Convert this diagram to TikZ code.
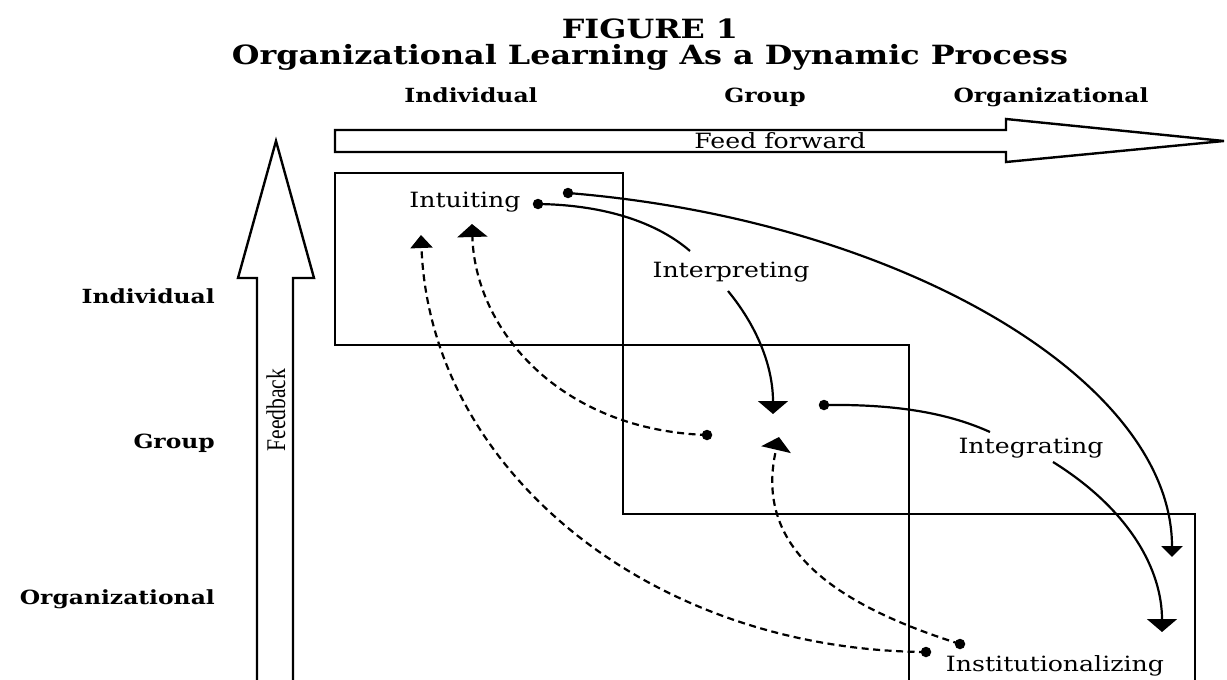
\documentclass[tikz,border=0pt]{standalone}
\usepackage{fontspec}
\usetikzlibrary{arrows.meta}
\newfontfamily\labfont[FakeStretch=1.2]{DejaVu Serif}
\newfontfamily\fbfont[FakeStretch=0.8]{Liberation Serif}
\tikzset{
  boxline/.style={line width=2pt},
  bigarrow/.style={line width=2.4pt, line join=miter, fill=white},
  flow/.style={line width=2.2pt},
  fbflow/.style={line width=2.2pt, dash pattern=on 7pt off 4.5pt},
  dotn/.style={circle, fill=black, inner sep=0pt, minimum size=10.5pt},
  lab/.style={inner sep=0pt, anchor=base, font=\labfont\fontsize{21}{24}\selectfont},
  hdr/.style={inner sep=0pt, anchor=base, font=\labfont\bfseries\fontsize{19.5}{22}\selectfont},
  rowhdr/.style={hdr, anchor=base east},
  ttl/.style={inner sep=0pt, anchor=base, font=\labfont\bfseries\fontsize{26.5}{30}\selectfont},
  tipbig/.style={-{Triangle[width=30pt,length=13pt]}},
  tipmid/.style={-{Triangle[width=22pt,length=13pt]}},
  tipsmall/.style={-{Triangle[width=21pt,length=11pt]}},
}
\begin{document}
\begin{tikzpicture}[x=1pt,y=-1pt]
\useasboundingbox[fill=white] (0,0) rectangle (1227,680);

% titles
\node[ttl] (fig) at (650,38) {FIGURE 1};
\node[ttl] (title) at (650,64) {Organizational Learning As a Dynamic Process};

% column headers
\node[hdr] (cInd) at (471,102) {Individual};
\node[hdr] (cGrp) at (765,102) {Group};
\node[hdr] (cOrg) at (1051,102) {Organizational};

% row headers
\node[rowhdr] (rInd) at (215,303) {Individual};
\node[rowhdr] (rGrp) at (215,448) {Group};
\node[rowhdr] (rOrg) at (215,604) {Organizational};

% feed forward arrow
\draw[bigarrow] (335,130) -- (1006,130) -- (1006,119) -- (1224,141) -- (1006,162) -- (1006,152) -- (335,152) -- cycle;
\node[lab] (ff) at (780,148) {Feed forward};

% feedback arrow
\draw[bigarrow] (257,684) -- (257,278) -- (238,278) -- (276,141) -- (314,278) -- (293,278) -- (293,684);
\node[inner sep=0pt, rotate=90, font=\fbfont\fontsize{27}{30}\selectfont] (fb) at (276,410) {Feedback};

% level boxes
\draw[boxline] (335,173) rectangle (623,345);
\draw[boxline] (623,345) rectangle (909,514);
\draw[boxline] (909,514) -- (1195,514) -- (1195,684);
\draw[boxline] (909,514) -- (909,684);

% process labels
\node[lab] (intu) at (465,207) {Intuiting};
\node[lab] (interp) at (731,277) {Interpreting};
\node[lab] (integ) at (1031,453) {Integrating};
\node[lab] (inst) at (1055,671) {Institutionalizing};

% dots
\node[dotn] (dA) at (568,193) {};
\node[dotn] (dB) at (538,204) {};
\node[dotn] (dC) at (824,405) {};
\node[dotn] (dD) at (707,435) {};
\node[dotn] (dE) at (960,644) {};
\node[dotn] (dF) at (926,652) {};

% connector ends
\coordinate (eInterp) at (690,251);
\coordinate (sInterp) at (728,291);
\coordinate (tGrpDown) at (773,414);
\coordinate (eInteg) at (990,432);
\coordinate (sInteg) at (1053,462);
\coordinate (tOrgA) at (1162,632);
\coordinate (tOrgB) at (1172,557);
\coordinate (tGrpUp) at (779,437);
\coordinate (tIndA) at (421,235);
\coordinate (tIndB) at (472,224);

% solid feed-forward flows
\draw[flow] (dB.center) .. controls (610,205) and (660,225) .. (eInterp);
\draw[flow, tipbig] (sInterp) .. controls (760,330) and (773,370) .. (tGrpDown);
\draw[flow] (dC.center) .. controls (900,404) and (950,414) .. (eInteg);
\draw[flow, tipbig] (sInteg) .. controls (1130,510) and (1162,570) .. (tOrgA);
\draw[flow, tipsmall] (dA.center) .. controls (900,220) and (1172,380) .. (tOrgB);

% dashed feedback flows
\draw[fbflow, tipbig] (dE.center) .. controls (820,600) and (755,540) .. (tGrpUp);
\draw[fbflow, tipmid] (dF.center) .. controls (650,650) and (430,470) .. (tIndA);
\draw[fbflow, tipbig] (dD.center) .. controls (560,430) and (475,330) .. (tIndB);
\end{tikzpicture}
\end{document}
